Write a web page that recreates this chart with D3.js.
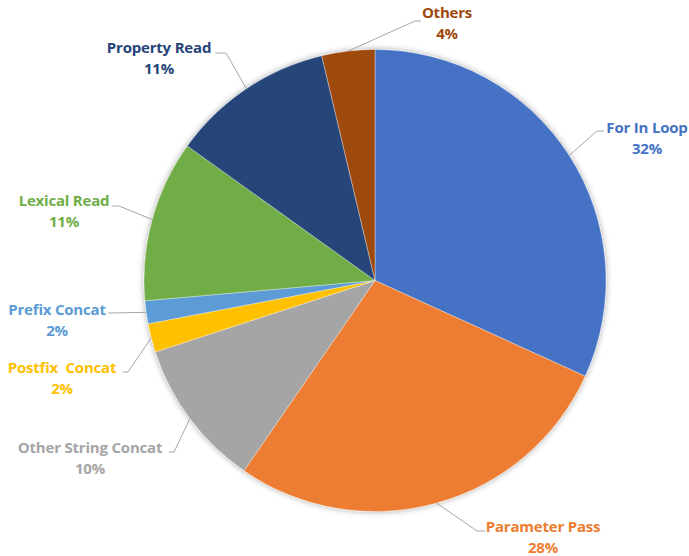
<!DOCTYPE html>
<html>
<head>
<meta charset="utf-8">
<script src="https://cdn.jsdelivr.net/npm/d3@7"></script>
<style>
  body { margin: 0; background: #fff; }
  svg text { font-family: "Open Sans", sans-serif; font-weight: bold; font-size: 15px; letter-spacing: -0.2px; }
</style>
</head>
<body>
<svg></svg>
<script>
var width = 689;
var height = 556;

// slices, clockwise from 12 o'clock
var categories = ["For In Loop", "Parameter Pass", "Other String Concat", "Postfix  Concat",
                  "Prefix Concat", "Lexical Read", "Property Read", "Others"];
var values = [31.8, 27.8, 10.4, 2.0, 1.6, 11.3, 11.4, 3.7];
var colors = ["#4472c4", "#ed7d31", "#a5a5a5", "#ffc000", "#5b9bd5", "#70ad47", "#264478", "#9e480e"];

// where each label sits: text centre x, first line y, leader elbow and end of the short tail
var labelLayout = [
  { tx: 647, ty: 128, ex: 597, ey: 131, hx: 604 },
  { tx: 543, ty: 527, ex: 477, ey: 531, hx: 485 },
  { tx: 90,  ty: 448, ex: 174, ey: 452, hx: 169 },
  { tx: 62,  ty: 368, ex: 128, ey: 372, hx: 123 },
  { tx: 57,  ty: 310, ex: 112, ey: 313, hx: 108 },
  { tx: 64,  ty: 201, ex: 119, ey: 206, hx: 112 },
  { tx: 159, ty: 48,  ex: 226, ey: 53,  hx: 215 },
  { tx: 447, ty: 13,  ex: 415, ey: 21,  hx: 421 }
];

var cx = 375, cy = 280.5, r = 231;

var svg = d3.select("svg")
  .attr("width", width)
  .attr("height", height);

var defs = svg.append("defs");
var shadow = defs.append("filter").attr("id", "shadow")
  .attr("x", "-10%").attr("y", "-10%").attr("width", "120%").attr("height", "120%");
shadow.append("feGaussianBlur").attr("in", "SourceAlpha").attr("stdDeviation", 3);
shadow.append("feOffset").attr("dx", 0).attr("dy", 0).attr("result", "blur");
shadow.append("feComponentTransfer").append("feFuncA").attr("type", "linear").attr("slope", 0.35);
var merge = shadow.append("feMerge");
merge.append("feMergeNode");
merge.append("feMergeNode").attr("in", "SourceGraphic");

var data = categories.map((c, i) => ({ name: c, value: values[i], color: colors[i], layout: labelLayout[i] }));
var total = d3.sum(values);

var pie = d3.pie().value(d => d.value).sort(null);
var arcs = pie(data);

var arc = d3.arc().innerRadius(0).outerRadius(r);
var edge = d3.arc().innerRadius(r).outerRadius(r);

var g = svg.append("g").attr("transform", `translate(${cx},${cy})`);

g.append("g").attr("filter", "url(#shadow)")
  .selectAll("path")
  .data(arcs)
  .enter()
  .append("path")
    .attr("d", arc)
    .attr("fill", d => d.data.color)
    .attr("stroke", "#ffffff")
    .attr("stroke-opacity", 0.5)
    .attr("stroke-width", 0.7);

// leader lines
svg.append("g")
  .selectAll("polyline")
  .data(arcs)
  .enter()
  .append("polyline")
    .attr("points", d => {
      var p = edge.centroid(d);
      var L = d.data.layout;
      return [[cx + p[0], cy + p[1]], [L.ex, L.ey], [L.hx, L.ey]].map(q => q.join(",")).join(" ");
    })
    .attr("fill", "none")
    .attr("stroke", "#a6a6a6")
    .attr("stroke-width", 1);

var fmt = d3.format(".0%");

var labels = svg.append("g")
  .selectAll("text")
  .data(arcs)
  .enter()
  .append("text")
    .attr("text-anchor", "middle")
    .attr("fill", d => d.data.color);

labels.append("tspan")
  .attr("x", d => d.data.layout.tx)
  .attr("y", d => d.data.layout.ty)
  .attr("dy", "0.35em")
  .attr("xml:space", "preserve")
  .text(d => d.data.name);

labels.append("tspan")
  .attr("x", d => d.data.layout.tx)
  .attr("y", d => d.data.layout.ty + 21)
  .attr("dy", "0.35em")
  .text(d => fmt(d.data.value / total));
</script>
</body>
</html>
